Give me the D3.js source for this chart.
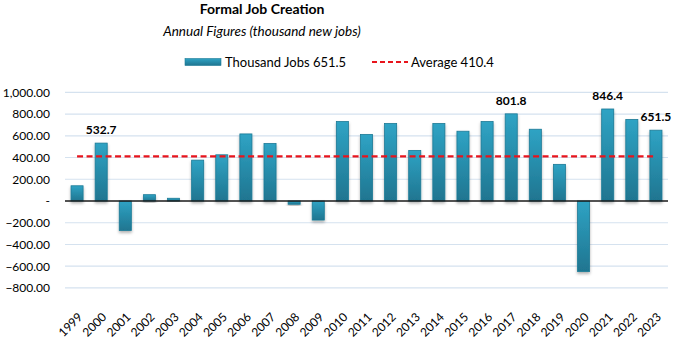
<!DOCTYPE html>
<html>
<head>
<meta charset="utf-8">
<script src="https://cdn.jsdelivr.net/npm/d3@7"></script>
<style>
  body { margin: 0; background: #fff; }
  text { font-family: Lato, "Noto Sans", sans-serif; fill: #000; }
</style>
</head>
<body>
<div id="chart"></div>
<script>
// annual formal job creation, thousand jobs
const years = ["1999","2000","2001","2002","2003","2004","2005","2006","2007","2008","2009","2010","2011","2012",
  "2013","2014","2015","2016","2017","2018","2019","2020","2021","2022","2023"];
const jobs = [140, 532.7, -272, 58, 25, 376, 425, 617, 529, -30, -175, 731, 612, 713,
  465, 713, 642, 731, 801.8, 660, 337, -648, 846.4, 750, 651.5];
const average = 410.4;
const yTicks = [-800, -600, -400, -200, 0, 200, 400, 600, 800, 1000];
const labelled = ["2000", "2017", "2021", "2023"];

const width = 675, height = 340;
const margin = {top: 92.3, right: 7, bottom: 30.3, left: 65};

const svg = d3.select("#chart").append("svg")
  .attr("width", width)
  .attr("height", height);

const defs = svg.append("defs");
const grad = defs.append("linearGradient").attr("id", "barGrad")
  .attr("x1", 0).attr("y1", 0).attr("x2", 0).attr("y2", 1);
grad.append("stop").attr("offset", "0%").attr("stop-color", "#2fa3c4");
grad.append("stop").attr("offset", "100%").attr("stop-color", "#1f7590");
const shadow = defs.append("filter").attr("id", "shadow")
  .attr("x", "-30%").attr("y", "-30%").attr("width", "160%").attr("height", "160%");
shadow.append("feDropShadow").attr("dx", 0).attr("dy", 2).attr("stdDeviation", 1.5)
  .attr("flood-color", "#000").attr("flood-opacity", 0.3);

const x = d3.scaleBand()
  .domain(years)
  .range([margin.left, width - margin.right])
  .paddingInner(0.5).paddingOuter(0.25);

const y = d3.scaleLinear()
  .domain([-1000, 1000])
  .range([height - margin.bottom, margin.top]);

// title
svg.append("text").attr("x", 262).attr("y", 14).attr("text-anchor", "middle")
  .style("font-weight", "bold").style("font-size", "14px").text("Formal Job Creation");
svg.append("text").attr("x", 262).attr("y", 36).attr("text-anchor", "middle")
  .style("font-style", "italic").style("font-size", "13.5px").text("Annual Figures (thousand new jobs)");

// gridlines
svg.append("g").selectAll("line").data(yTicks.filter(d => d !== 0)).enter()
  .append("line")
  .attr("x1", margin.left).attr("x2", width - margin.right)
  .attr("y1", d => y(d)).attr("y2", d => y(d))
  .attr("stroke", "#d5e2ef").attr("stroke-width", 1.2);

// y axis labels
let yAxis = g => g
  .attr("transform", `translate(${margin.left - 15},0)`)
  .call(d3.axisLeft(y).tickValues(yTicks).tickSize(0).tickPadding(0)
    .tickFormat(d => d === 0 ? "-     " : d3.format(",.2f")(d)))
  .call(g => g.select(".domain").remove())
  .call(g => g.selectAll("text").style("font-size", "12px").style("font-family", "Lato, sans-serif").attr("fill", "#000"));
svg.append("g").call(yAxis);

// bars
svg.append("g").selectAll("rect").data(jobs).enter()
  .append("rect")
  .attr("x", (d, i) => x(years[i]))
  .attr("width", x.bandwidth())
  .attr("y", d => y(Math.max(0, d)))
  .attr("height", d => Math.abs(y(d) - y(0)))
  .attr("fill", "url(#barGrad)")
  .attr("stroke", "#1c7a96").attr("stroke-width", 0.8)
  .attr("filter", "url(#shadow)");

// zero line
svg.append("line")
  .attr("x1", margin.left).attr("x2", width - margin.right)
  .attr("y1", y(0)).attr("y2", y(0))
  .attr("stroke", "#1a1a1a").attr("stroke-width", 1.6);

// average line
const first = x(years[0]) + x.bandwidth() / 2, last = x(years[years.length - 1]) + x.bandwidth() / 2;
svg.append("line")
  .attr("x1", first).attr("x2", last)
  .attr("y1", y(average)).attr("y2", y(average))
  .attr("stroke", "#e8141c").attr("stroke-width", 2.4)
  .attr("stroke-dasharray", "6,3.5");

// data labels
svg.append("g").selectAll("text").data(jobs.filter((d, i) => labelled.includes(years[i]))).enter()
  .append("text")
  .attr("x", d => x(years[jobs.indexOf(d)]) + x.bandwidth() / 2)
  .attr("y", d => y(d) - 9)
  .attr("text-anchor", "middle")
  .style("font-weight", "bold").style("font-size", "12px")
  .text(d => d3.format(".1f")(d));

// x labels
svg.append("g").selectAll("text").data(years).enter()
  .append("text")
  .attr("transform", d => `translate(${x(d) + x.bandwidth() / 2 + 1},${y(-1000) + 3}) rotate(-45)`)
  .attr("text-anchor", "end")
  .attr("dy", "0.6em")
  .style("font-size", "12px")
  .text(d => d);

// legend
const legend = svg.append("g");
legend.append("rect").attr("x", 185).attr("y", 58.5).attr("width", 36).attr("height", 7)
  .attr("fill", "url(#barGrad)").attr("stroke", "#1c7a96").attr("stroke-width", 0.6);
legend.append("text").attr("x", 225).attr("y", 67).style("font-size", "13px")
  .text("Thousand Jobs " + d3.format(".1f")(jobs[jobs.length - 1]));
legend.append("line").attr("x1", 372).attr("x2", 408).attr("y1", 62).attr("y2", 62)
  .attr("stroke", "#e8141c").attr("stroke-width", 2.2).attr("stroke-dasharray", "5,3");
legend.append("text").attr("x", 411).attr("y", 67).style("font-size", "13px")
  .text("Average " + average);
</script>
</body>
</html>
